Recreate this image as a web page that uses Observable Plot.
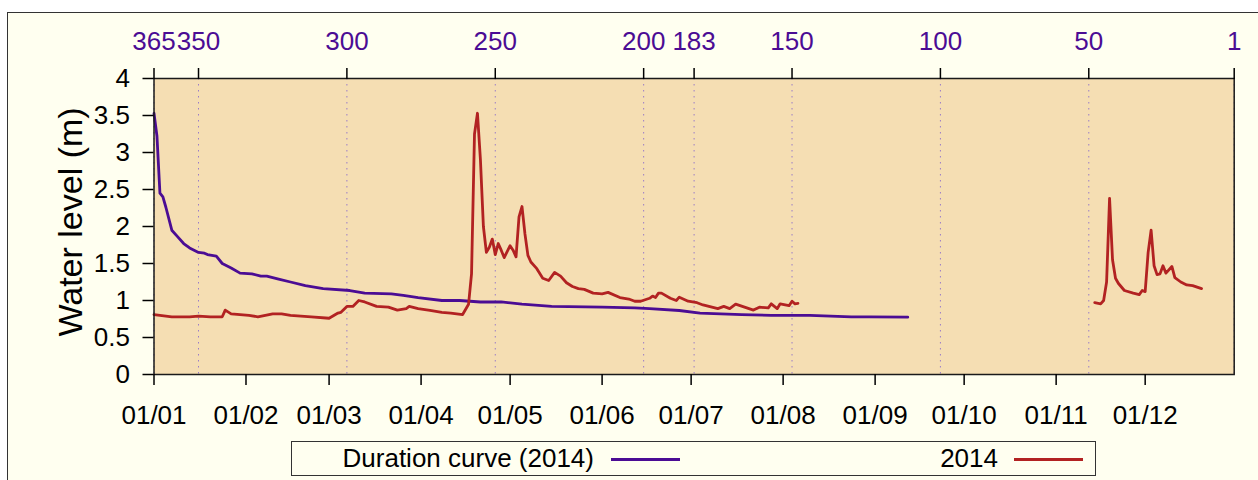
<!DOCTYPE html>
<html>
<head>
<meta charset="utf-8">
<script src="https://cdn.jsdelivr.net/npm/d3@7"></script>
<script src="https://cdn.jsdelivr.net/npm/@observablehq/plot@0.6"></script>
<style>
  html, body { margin: 0; padding: 0; background: #ffffff; width: 1258px; height: 480px; overflow: hidden; }
  #page { position: absolute; left: 0; top: 0; width: 1258px; height: 480px; font-family: "Liberation Sans", Arial, sans-serif; }
  #outer { position: absolute; left: 7px; top: 12px; width: 1400px; height: 600px; border: 1.5px solid #333; background: #fffff0; }
  #chart { position: absolute; left: 0; top: 0; }
  #ylabel { position: absolute; left: 70px; top: 222px; transform: translate(-50%, -50%) rotate(-90deg); font-size: 34px; white-space: nowrap; color: #000; }
  #legend { position: absolute; left: 291px; top: 441px; width: 803px; height: 33px; border: 1.5px solid #333; background: #fffff0; font-size: 26px; }
  .lt { position: absolute; top: 0; height: 33px; line-height: 33px; text-align: right; white-space: nowrap; }
  .ll { position: absolute; top: 16px; height: 2.7px; width: 69px; }
</style>
</head>
<body>
<div id="page">
  <div id="outer"></div>
  <div id="chart"></div>
  <div id="ylabel">Water level (m)</div>
  <div id="legend">
    <div class="lt" style="left:0; width:302px;">Duration curve (2014)</div>
    <div class="ll" style="left:319px; background:#4b0c94;"></div>
    <div class="lt" style="left:0; width:706px;">2014</div>
    <div class="ll" style="left:722px; background:#b22222;"></div>
  </div>
</div>
<script>
// Bottom axis: month starts (day of year, 0 = 1 Jan 2014)
const monthDays = [0, 31, 59, 90, 120, 151, 181, 212, 243, 273, 304, 334];
const monthLabels = ["01/01","01/02","01/03","01/04","01/05","01/06","01/07","01/08","01/09","01/10","01/11","01/12"];
// Top axis: duration rank ticks
const rankTicks = [365, 350, 300, 250, 200, 183, 150, 100, 50, 1];
const yTicks = [0, 0.5, 1, 1.5, 2, 2.5, 3, 3.5, 4];

// 2014 observed daily water level (null = missing data gap)
const obsDays = [0,6,12,15,19,23,24,26,29,32,35,40,43,46,53,59,62,63,65,67,69,71,75,79,82,85,86,89,93,97,100,104,106,107,108,109,110,111,112,113,114,115,116,117,118,119,120,121,122,123,124,125,126,127,129,131,133,135,137,139,141,143,145,148,151,153,157,160,162,164,167,168,169,170,171,174,176,177,180,183,185,188,190,192,194,196,199,202,204,207,208,210,211,214,215,216,217,
  260,
  317,319,320,321,322,323,324,325,327,330,332,333,334,335,336,337,338,339,340,341,343,344,346,348,350,353];
const obsLevels = [0.81,0.78,0.78,0.79,0.78,0.78,0.87,0.82,0.81,0.80,0.78,0.82,0.82,0.80,0.78,0.76,0.83,0.84,0.92,0.92,1.00,0.98,0.92,0.91,0.87,0.89,0.92,0.89,0.865,0.84,0.83,0.81,0.95,1.36,3.25,3.53,2.9,2.0,1.65,1.72,1.83,1.62,1.77,1.68,1.58,1.66,1.74,1.68,1.59,2.13,2.27,1.90,1.61,1.52,1.43,1.30,1.27,1.38,1.33,1.24,1.19,1.16,1.15,1.10,1.09,1.11,1.04,1.02,0.99,0.99,1.03,1.06,1.04,1.10,1.10,1.03,1.00,1.045,0.99,0.97,0.94,0.91,0.89,0.92,0.89,0.95,0.91,0.87,0.91,0.90,0.955,0.89,0.955,0.93,0.99,0.955,0.96,
  null,
  0.97,0.955,1.00,1.25,2.38,1.55,1.30,1.23,1.135,1.10,1.08,1.135,1.12,1.65,1.95,1.47,1.35,1.36,1.47,1.37,1.46,1.31,1.25,1.21,1.20,1.16];

// Duration curve (2014): rank vs level
const dcRanks = [365,364,363,362,361,359,357,355,353,350,348,347,344,342,339,336,332,329,327,323,319,314,308,299,294,285,281,276,268,262,255,248,241,231,214,203,198,188,181,167,157,144,130,124,111];
const dcLevels = [3.53,3.22,2.45,2.40,2.26,1.95,1.86,1.77,1.71,1.65,1.64,1.62,1.60,1.50,1.44,1.37,1.36,1.33,1.33,1.29,1.25,1.20,1.16,1.135,1.10,1.09,1.07,1.04,1.00,1.00,0.98,0.98,0.95,0.92,0.91,0.90,0.89,0.865,0.83,0.81,0.80,0.80,0.78,0.78,0.775];

const obs = obsDays.map((d, i) => ({day: d, level: obsLevels[i]}));
const dc = dcRanks.map((r, i) => ({x: 365 - r, level: dcLevels[i]}));
const monthMap = new Map(monthDays.map((d, i) => [d, monthLabels[i]]));

const PURPLE = "#4b0c94";
const RED = "#b22222";

const chart = Plot.plot({
  width: 1258,
  height: 440,
  marginLeft: 153.5,
  marginRight: 24.3,
  marginTop: 78,
  marginBottom: 66,
  style: {background: "transparent", fontFamily: "'Liberation Sans', Arial, sans-serif", fontSize: "26px", color: "#000", overflow: "visible"},
  x: {type: "linear", domain: [0, 364], axis: null},
  y: {domain: [0, 4], axis: null},
  marks: [
    Plot.frame({fill: "#f5deb3"}),
    Plot.ruleX(rankTicks.map(r => 365 - r), {stroke: "#9a7cc8", strokeWidth: 1, strokeDasharray: "1.5,4.5"}),
    Plot.line(dc, {x: "x", y: "level", stroke: PURPLE, strokeWidth: 2.8}),
    Plot.line(obs, {x: "day", y: "level", stroke: RED, strokeWidth: 2.8}),
    Plot.frame({stroke: "#1a1a1a", strokeWidth: 1.5}),
    Plot.axisY({ticks: yTicks, tickSize: 11, tickPadding: 13, tickFormat: d => String(d), label: null, fontSize: 26, stroke: "#000", strokeWidth: 1.5, fill: "#000"}),
    Plot.axisX({anchor: "bottom", ticks: monthDays, tickFormat: d => monthMap.get(d), tickSize: 11, tickPadding: 20, label: null, fontSize: 26, stroke: "#000", strokeWidth: 1.5, fill: "#000"}),
    Plot.axisX({anchor: "top", ticks: rankTicks.map(r => 365 - r), tickFormat: d => String(365 - d), tickSize: 11, tickPadding: 18, label: null, fontSize: 26, stroke: "#000", strokeWidth: 1.5, fill: PURPLE})
  ]
});
document.getElementById("chart").appendChild(chart);
</script>
</body>
</html>
